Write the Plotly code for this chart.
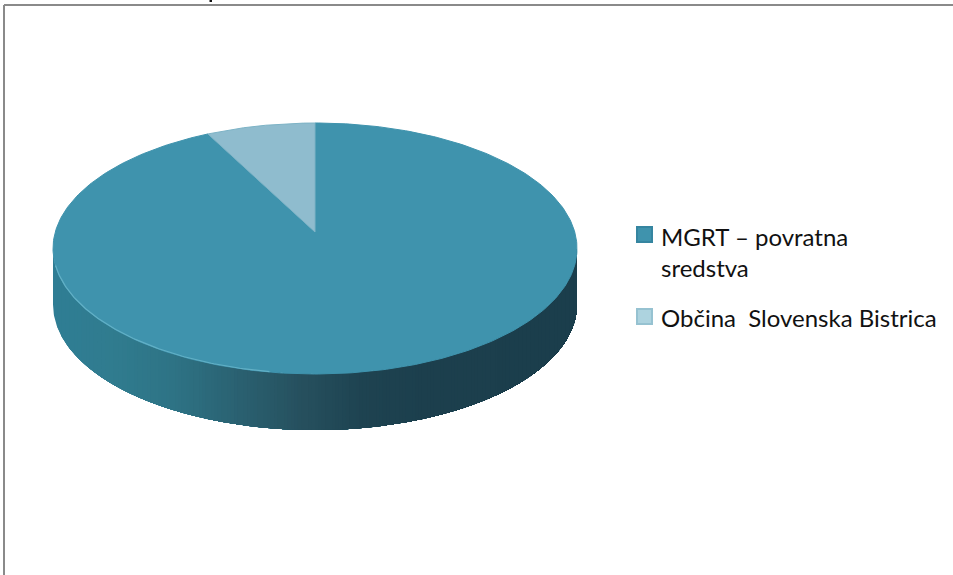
import numpy as np
import plotly.graph_objects as go

categories = ["MGRT – povratna<br>sredstva", "Občina  Slovenska Bistrica"]
values = [93.3, 6.7]

TOP_COLORS = ["#3F93AD", "#8FBCCE"]
EDGE_COLORS = ["#3F93AD", "#7DB3C6"]
MARKER_COLORS = ["#3F93AD", "#ADD3DF"]
MARKER_EDGES = ["#3585A0", "#96C2D1"]
WALL_X = [53, 110, 173, 240, 300, 360, 420, 577]
WALL_RGB = [(47, 125, 148), (48, 124, 143), (46, 115, 133), (42, 96, 112),
            (38, 80, 94), (30, 67, 81), (28, 63, 77), (27, 62, 76)]

W, H = 953, 575
CX, CY, RX, RY = 315, 248.5, 262, 125.5
DEPTH = 56
TIP_Y = 232
FONT = "Lato, Carlito, Calibri, sans-serif"


def ell_x(t):
    return CX + RX * np.sin(t)


def ell_y(t):
    return CY - RY * np.cos(t)


fig = go.Figure()

# Side wall: painted left to right, each layer covering everything to its right,
# so the shading steps leave no seams between bands.
wall_t = np.linspace(np.pi / 2, 3 * np.pi / 2, 241)
for left in np.arange(CX - RX, CX + RX, 4):
    ts = wall_t[ell_x(wall_t) >= left]
    mid = left + 2
    rgb = [np.interp(mid, WALL_X, [c[i] for c in WALL_RGB]) for i in range(3)]
    col = f"rgb({rgb[0]:.0f},{rgb[1]:.0f},{rgb[2]:.0f})"
    xs = np.r_[ell_x(ts), ell_x(ts[::-1])]
    ys = np.r_[ell_y(ts), ell_y(ts[::-1]) + DEPTH]
    fig.add_trace(go.Scatter(x=xs, y=ys, mode="lines", fill="toself", fillcolor=col,
                             line=dict(width=0), hoverinfo="skip", showlegend=False))

# Top face: one sector per value, clockwise from twelve o'clock
fractions = np.array(values) / sum(values)
starts = np.r_[0, np.cumsum(fractions)[:-1]] * 2 * np.pi
ends = np.cumsum(fractions) * 2 * np.pi
for i, name in enumerate(categories):
    ts = np.linspace(starts[i], ends[i], 400)
    xs = np.r_[CX, ell_x(ts), CX]
    ys = np.r_[TIP_Y, ell_y(ts), TIP_Y]
    fig.add_trace(go.Scatter(x=xs, y=ys, mode="lines", fill="toself", fillcolor=TOP_COLORS[i],
                             line=dict(color=EDGE_COLORS[i], width=1),
                             name=name.replace("<br>", " "), hoverinfo="name", showlegend=False))

# Light rim on the lower left of the top face
ts = np.linspace(np.radians(190), np.radians(262), 120)
fig.add_trace(go.Scatter(x=ell_x(ts), y=ell_y(ts) - 0.5, mode="lines",
                         line=dict(color="#62B0C6", width=1.2), hoverinfo="skip", showlegend=False))

# Legend
LEG_Y = [234.5, 316.5]
LEG_TEXT_Y = [252, 317]
for i, name in enumerate(categories):
    fig.add_trace(go.Scatter(x=[644.5], y=[LEG_Y[i]], mode="markers",
                             marker=dict(symbol="square", size=15, color=MARKER_COLORS[i],
                                         line=dict(color=MARKER_EDGES[i], width=2)),
                             hoverinfo="skip", showlegend=False))
    fig.add_annotation(x=659, y=LEG_TEXT_Y[i], xref="x", yref="y", text=name, showarrow=False,
                       xanchor="left", yanchor="middle", align="left",
                       font=dict(family=FONT, size=24, color="#111111"))

fig.update_layout(
    width=W, height=H, margin=dict(l=0, r=0, t=0, b=0),
    paper_bgcolor="white", plot_bgcolor="white",
    xaxis=dict(range=[0, W], visible=False, fixedrange=True),
    yaxis=dict(range=[H, 0], visible=False, fixedrange=True),
    shapes=[
        dict(type="line", xref="x", yref="y", x0=4, x1=W, y0=5, y1=5, line=dict(color="#8A8A8A", width=2)),
        dict(type="line", xref="x", yref="y", x0=4, x1=4, y0=5, y1=H, line=dict(color="#8A8A8A", width=2)),
        # Tip of a letter cut off by the top edge of the picture
        dict(type="rect", xref="x", yref="y", x0=209.5, x1=212, y0=0, y1=2,
             fillcolor="#111111", line=dict(width=0)),
    ],
)

fig.write_html("out.html", config=dict(displayModeBar=False),
               post_script="document.body.style.margin='0';document.body.style.overflow='hidden';")
